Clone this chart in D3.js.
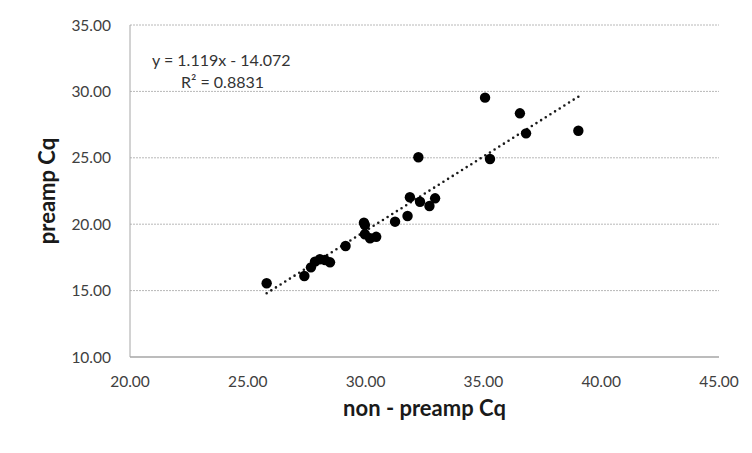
<!DOCTYPE html>
<html><head><meta charset="utf-8">
<script src="https://cdn.jsdelivr.net/npm/d3@7"></script>
<style>body{margin:0;background:#fff;}svg{display:block;font-family:Lato,"Open Sans",sans-serif;}</style>
</head><body>
<svg id="c" width="752" height="453"></svg>
<script>
const xValues = [25.80,27.40,27.68,27.85,28.06,28.28,28.49,29.15,29.97,29.93,29.97,30.19,30.45,31.25,31.78,31.88,32.24,32.31,32.71,32.95,35.07,35.28,36.55,36.81,39.03];
const yValues = [15.55,16.10,16.75,17.18,17.36,17.30,17.13,18.36,19.94,20.11,19.24,18.94,19.05,20.19,20.62,22.03,25.04,21.69,21.37,21.95,29.53,24.91,28.35,26.84,27.04];
const xTicks = [20,25,30,35,40,45];
const yTicks = [10,15,20,25,30,35];
const slope = 1.119, intercept = -14.072;
const eqText = "y = 1.119x - 14.072";
const r2Text = "R² = 0.8831";
const xTitle = "non - preamp Cq";
const yTitle = "preamp Cq";

const svg = d3.select("#c");
const L=130, R=719, T=25, B=357;
const x = d3.scaleLinear().domain([20,45]).range([L,R]);
const y = d3.scaleLinear().domain([10,35]).range([B,T]);

// gridlines
svg.append("g").selectAll("line").data(yTicks.filter(d=>d>10)).join("line")
  .attr("x1",L).attr("x2",R).attr("y1",d=>y(d)).attr("y2",d=>y(d))
  .attr("stroke","#b8b8b8").attr("stroke-width",1).attr("stroke-dasharray","2,1");

// axes lines
svg.append("line").attr("x1",L).attr("x2",L).attr("y1",T).attr("y2",B).attr("stroke","#a6a6a6");
svg.append("line").attr("x1",L).attr("x2",R).attr("y1",B).attr("y2",B).attr("stroke","#a6a6a6").attr("stroke-width",1.5);

// tick labels
const fmt = d3.format(".2f");
svg.append("g").selectAll("text").data(xTicks).join("text")
  .attr("x",d=>x(d)).attr("y",B+30).attr("text-anchor","middle")
  .attr("font-size",15.5).attr("fill","#404040").text(fmt);
svg.append("g").selectAll("text").data(yTicks).join("text")
  .attr("x",L-19).attr("y",d=>y(d)+5.5).attr("text-anchor","end")
  .attr("font-size",15.5).attr("fill","#404040").text(fmt);

// trendline
const xmin = d3.min(xValues), xmax = d3.max(xValues);
svg.append("line")
  .attr("x1",x(xmin)).attr("y1",y(slope*xmin+intercept))
  .attr("x2",x(xmax)).attr("y2",y(slope*xmax+intercept))
  .attr("stroke","#1a1a1a").attr("stroke-width",2.6)
  .attr("stroke-linecap","round").attr("stroke-dasharray","0,5.5");

// points
svg.append("g").selectAll("circle").data(xValues.map((v,i)=>[v,yValues[i]])).join("circle")
  .attr("cx",d=>x(d[0])).attr("cy",d=>y(d[1])).attr("r",5.2).attr("fill","#000");

// equation
svg.append("text").attr("x",152).attr("y",66).attr("font-size",16).attr("fill","#333").text(eqText);
svg.append("text").attr("x",181).attr("y",88).attr("font-size",16).attr("fill","#333").text(r2Text);

// titles
svg.append("text").attr("x",(L+R)/2).attr("y",416).attr("text-anchor","middle")
  .attr("font-size",22).attr("font-weight","bold").attr("fill","#1a1a1a").text(xTitle);
svg.append("text").attr("transform",`translate(55,${(T+B)/2}) rotate(-90)`).attr("text-anchor","middle")
  .attr("font-size",22).attr("font-weight","bold").attr("fill","#1a1a1a").text(yTitle);
</script>
</body></html>
